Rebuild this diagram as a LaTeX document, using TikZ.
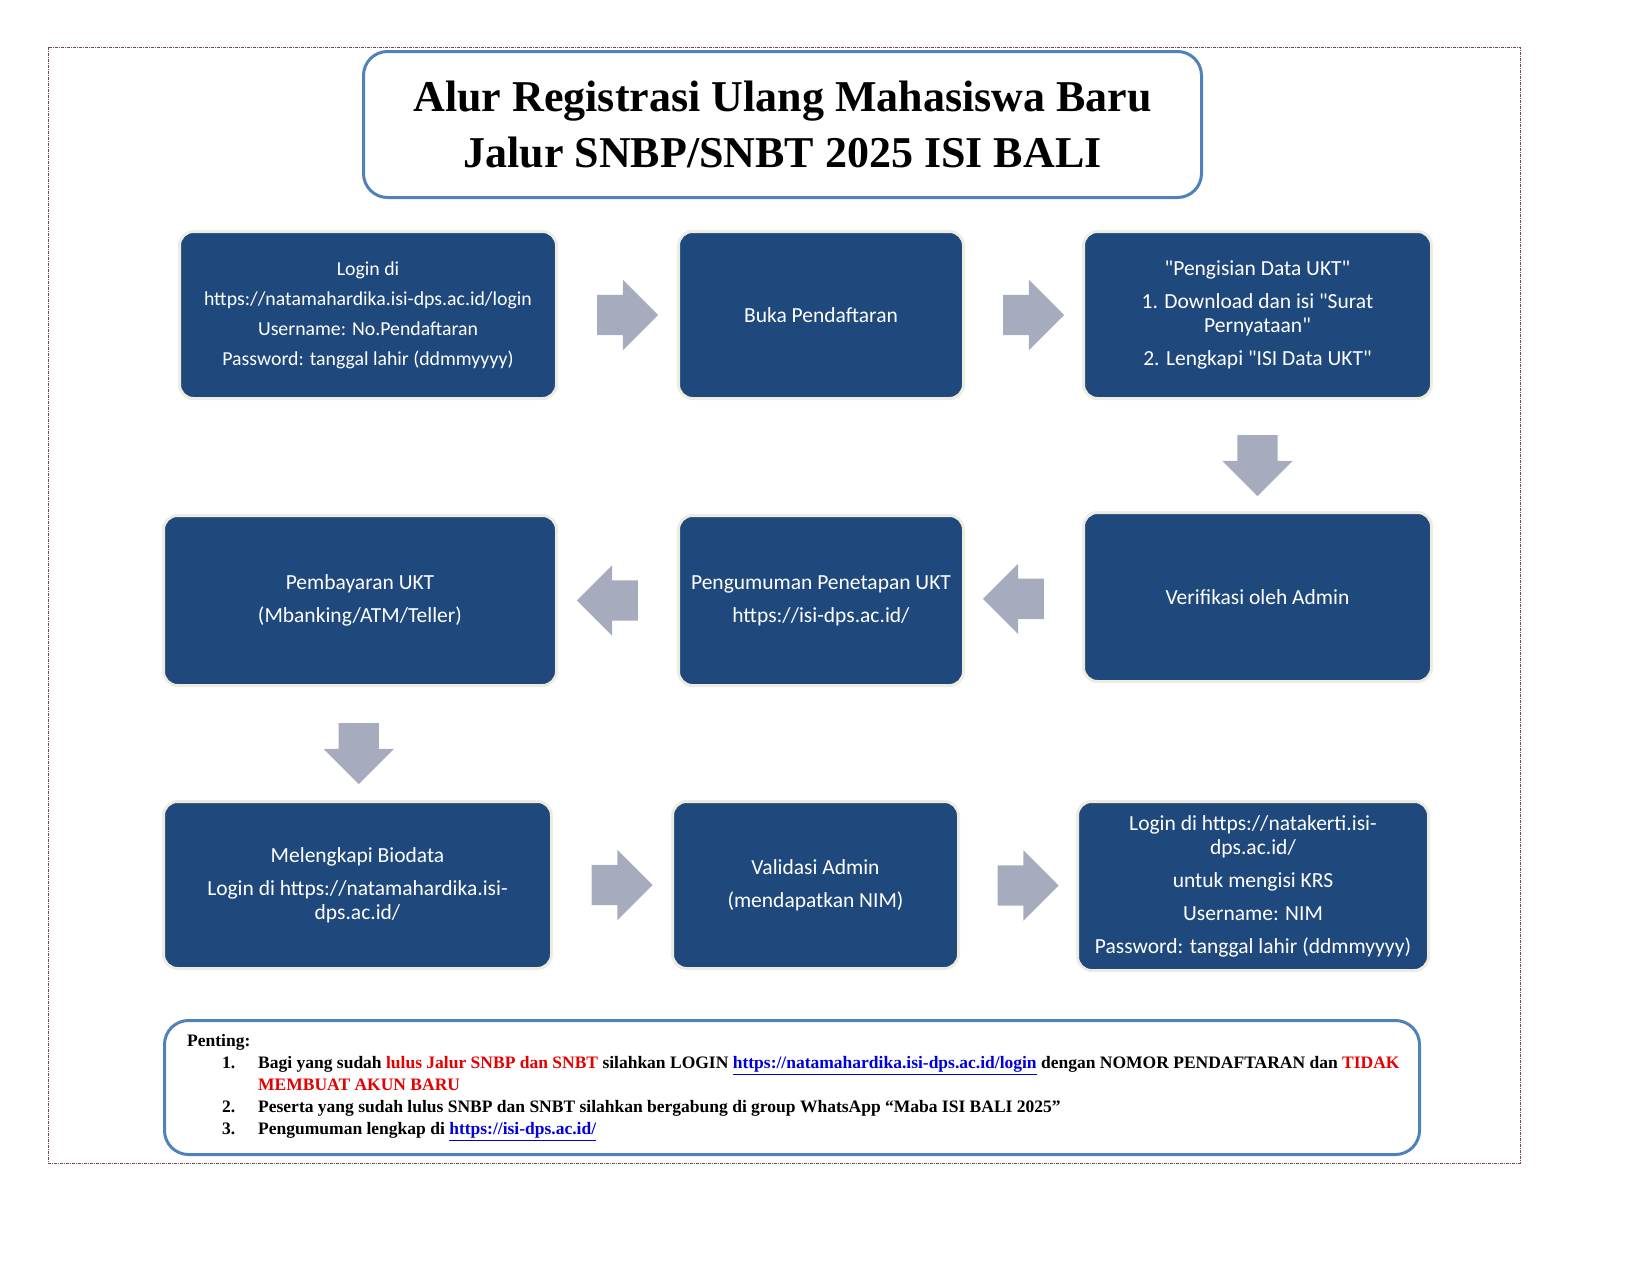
\documentclass[tikz,border=0pt]{standalone}
\usepackage{fontspec}
\setmainfont{Liberation Serif}
\newfontfamily\kotakfont{Carlito}[Ligatures=TeXOff]
\usetikzlibrary{shapes, positioning}

\definecolor{birutua}{RGB}{31,73,125}
\definecolor{krem}{RGB}{238,236,225}
\definecolor{abu}{RGB}{166,172,189}
\definecolor{birugaris}{RGB}{79,129,189}
\definecolor{bingkai}{RGB}{120,70,70}
\definecolor{merah}{RGB}{230,0,0}
\definecolor{tautan}{RGB}{0,0,220}

\begin{document}
\begin{tikzpicture}[x=1pt, y=-1pt,
	tahap/.style={draw=krem, line width=3pt, fill=birutua, rounded corners=14pt, text=white, align=center, inner sep=4pt, font=\kotakfont\fontsize{21.5}{24}\selectfont},
	panah/.style={single arrow, fill=abu, minimum height=61pt, inner xsep=0pt, inner ysep=20pt, single arrow head extend=15pt},
	judul/.style={draw=birugaris, line width=3pt, rounded corners=24pt, minimum width=838pt, minimum height=146pt, align=center, font=\bfseries\fontsize{44}{56}\selectfont},
	catatan/.style={draw=birugaris, line width=3pt, rounded corners=24pt, minimum width=1255pt, minimum height=134pt},
	isicatatan/.style={align=left, inner sep=0pt, font=\bfseries\fontsize{17.5}{22}\selectfont}]

	\useasboundingbox (0,0) rectangle (1650,1275);
	\draw[bingkai, line width=1pt, dash pattern=on 3pt off 1pt on 1pt off 1pt] (48,47) rectangle (1520,1163);

	\node[judul]	(judul)		at (782.5, 124.5)	{Alur Registrasi Ulang Mahasiswa Baru \\ Jalur SNBP/SNBT 2025 ISI BALI};

	\node[tahap, minimum width=377pt, minimum height=167pt, font=\kotakfont\fontsize{19.8}{22}\selectfont]	(login)	at (368, 315)
		{Login di \\[8pt] https://natamahardika.isi-dps.ac.id/login \\[8pt] Username: No.Pendaftaran \\[8pt] Password: tanggal lahir (ddmmyyyy)};
	\node[tahap, minimum width=285pt, minimum height=167pt]	(buka)		at (821, 315)	{Buka Pendaftaran};
	\node[tahap, minimum width=348pt, minimum height=167pt]	(ukt)		at (1257.5, 315)
		{"Pengisian Data UKT" \\[9pt] 1. Download dan isi "Surat \\ Pernyataan" \\[9pt] 2. Lengkapi "ISI Data UKT"};

	\node[tahap, minimum width=393pt, minimum height=170pt]	(bayar)		at (360, 600.5)	{Pembayaran UKT \\[9pt] (Mbanking/ATM/Teller)};
	\node[tahap, minimum width=285pt, minimum height=170pt]	(umum)		at (821, 600.5)	{Pengumuman Penetapan UKT \\[9pt] https://isi-dps.ac.id/};
	\node[tahap, minimum width=348pt, minimum height=169pt]	(verif)		at (1257.5, 597)	{Verifikasi oleh Admin};

	\node[tahap, minimum width=388pt, minimum height=167pt]	(biodata)	at (357.5, 885)
		{Melengkapi Biodata \\[9pt] Login di https://natamahardika.isi- \\ dps.ac.id/};
	\node[tahap, minimum width=286pt, minimum height=167pt]	(validasi)	at (815.5, 885)	{Validasi Admin \\[9pt] (mendapatkan NIM)};
	\node[tahap, minimum width=351pt, minimum height=169pt]	(krs)		at (1253, 886)
		{Login di https://natakerti.isi- \\ dps.ac.id/ \\[9pt] untuk mengisi KRS \\[9pt] Username: NIM \\[9pt] Password: tanggal lahir (ddmmyyyy)};

	\path	(login)		--	node[panah]				{}	(buka)
			(buka)		--	node[panah]				{}	(ukt)
			(ukt)		--	node[panah, rotate=-90]	{}	(verif)
			(verif)		--	node[panah, rotate=180]	{}	(umum)
			(umum)		--	node[panah, rotate=180]	{}	(bayar)
			(bayar)		--	node[panah, rotate=-90]	{}	(biodata)
			(biodata)	--	node[panah]				{}	(validasi)
			(validasi)	--	node[panah]				{}	(krs);

	\node[catatan]	(penting)	at (792, 1087.5)	{};
	\node[isicatatan, anchor=west]	(daftar)	at ([xshift=24pt]penting.west)
		{Penting: \\
		\hspace*{35pt}\makebox[36pt][l]{1.}Bagi yang sudah {\color{merah}lulus Jalur SNBP dan SNBT} silahkan LOGIN {\color{tautan}\underline{https://natamahardika.isi-dps.ac.id/login}} dengan NOMOR PENDAFTARAN dan {\color{merah}TIDAK} \\
		\hspace*{71pt}{\color{merah}MEMBUAT AKUN BARU} \\
		\hspace*{35pt}\makebox[36pt][l]{2.}Peserta yang sudah lulus SNBP dan SNBT silahkan bergabung di group WhatsApp “Maba ISI BALI 2025” \\
		\hspace*{35pt}\makebox[36pt][l]{3.}Pengumuman lengkap di {\color{tautan}\underline{https://isi-dps.ac.id/}}};

\end{tikzpicture}
\end{document}
